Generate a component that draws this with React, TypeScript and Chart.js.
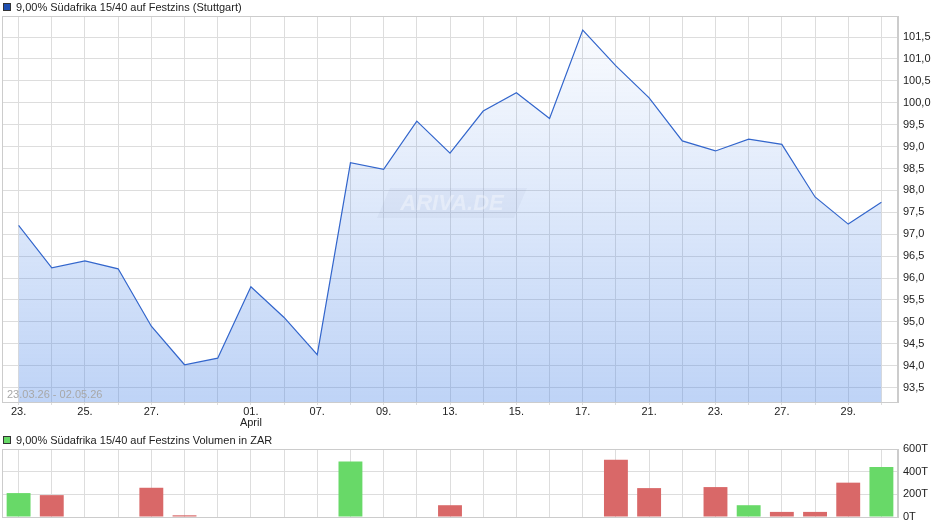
import React, { useEffect, useRef } from 'react';
import { Chart, registerables } from 'chart.js';

Chart.register(...registerables);

// ---------- data ----------
const DAYS = [
  '23.03.', '24.03.', '25.03.', '26.03.', '27.03.', '30.03.', '31.03.',
  '01.04.', '02.04.', '07.04.', '08.04.', '09.04.', '10.04.', '13.04.',
  '14.04.', '15.04.', '16.04.', '17.04.', '20.04.', '21.04.', '22.04.',
  '23.04.', '24.04.', '27.04.', '28.04.', '29.04.', '30.04.',
];
const X_TICK_LABELS = [
  '23.', '', '25.', '', '27.', '', '', '01.', '', '07.', '', '09.', '', '13.',
  '', '15.', '', '17.', '', '21.', '', '23.', '', '27.', '', '29.', '',
];
const MONTH_LABELS = [
  '', '', '', '', '', '', '', 'April', '', '', '', '', '', '',
  '', '', '', '', '', '', '', '', '', '', '', '', '',
];
const PRICES = [
  97.2, 96.23, 96.39, 96.21, 94.9, 94.02, 94.17, 95.8, 95.1, 94.25,
  98.63, 98.48, 99.58, 98.85, 99.81, 100.23, 99.64, 101.66, 100.84, 100.11,
  99.13, 98.9, 99.17, 99.05, 97.85, 97.23, 97.73,
];
const VOLUMES = [
  211, 193, 0, 0, 258, 15, 0, 0, 0, 0,
  490, 0, 0, 104, 0, 0, 0, 0, 505, 255,
  0, 264, 104, 45, 45, 303, 442,
];
const PRICE_TICKS = [93.5, 94, 94.5, 95, 95.5, 96, 96.5, 97, 97.5, 98, 98.5, 99, 99.5, 100, 100.5, 101, 101.5];
const PRICE_MIN = 93.17;
const PRICE_MAX = 101.98;
const VOLUME_TICKS = [0, 200, 400, 600];
const VOLUME_MAX = 600;

const TITLE_PRICE = '9,00% Südafrika 15/40 auf Festzins (Stuttgart)';
const TITLE_VOLUME = '9,00% Südafrika 15/40 auf Festzins Volumen in ZAR';
const DATE_RANGE = '23.03.26 - 02.05.26';
const WATERMARK = 'ARIVA.DE';

// ---------- styles ----------
const FONT = '"Liberation Sans", Arial, sans-serif';
const GRID = '#dddddd';
const BORDER = '#cccccc';
const TEXT = '#222222';
const UP = 'rgb(104,217,104)';
const DOWN = 'rgb(217,104,104)';

const frame = {
  id: 'frame',
  afterDraw(chart: any) {
    const { ctx, chartArea: a } = chart;
    ctx.save();
    ctx.strokeStyle = BORDER;
    ctx.lineWidth = 1;
    ctx.strokeRect(Math.round(a.left) + 0.5, Math.round(a.top) + 0.5, Math.round(a.right - a.left) - 1, Math.round(a.bottom - a.top));
    ctx.restore();
  },
};

const decorations = {
  id: 'decorations',
  afterDatasetsDraw(chart: any) {
    const { ctx, chartArea: a } = chart;
    ctx.save();
    // watermark
    const cx = (a.left + a.right) / 2 + 2;
    const cy = 203;
    ctx.fillStyle = 'rgba(110,130,170,0.07)';
    ctx.beginPath();
    ctx.moveTo(cx - 62, cy - 15);
    ctx.lineTo(cx + 75, cy - 15);
    ctx.lineTo(cx + 62, cy + 15);
    ctx.lineTo(cx - 75, cy + 15);
    ctx.closePath();
    ctx.fill();
    ctx.font = `italic bold 22px ${FONT}`;
    ctx.fillStyle = 'rgba(255,255,255,0.35)';
    ctx.textAlign = 'center';
    ctx.textBaseline = 'middle';
    ctx.fillText(WATERMARK, cx, cy + 1);
    // date range
    ctx.font = `11px ${FONT}`;
    ctx.fillStyle = '#a8a8a8';
    ctx.textAlign = 'left';
    ctx.fillText(DATE_RANGE, a.left + 5, a.bottom - 7);
    ctx.restore();
  },
};

function PriceChart() {
  const ref = useRef<HTMLCanvasElement>(null);
  useEffect(() => {
    const chart = new Chart(ref.current!, {
      type: 'line',
      data: {
        labels: DAYS,
        datasets: [
          {
            data: PRICES,
            borderColor: 'rgb(51,102,204)',
            borderWidth: 1.2,
            pointRadius: 0,
            tension: 0,
            fill: 'start',
            backgroundColor: (c: any) => {
              const { chart } = c;
              const area = chart.chartArea;
              if (!area) return 'rgba(70,130,230,0.2)';
              const g = chart.ctx.createLinearGradient(0, area.top, 0, area.bottom);
              g.addColorStop(0, 'rgba(70,130,230,0.02)');
              g.addColorStop(1, 'rgba(70,130,230,0.35)');
              return g;
            },
          },
        ],
      },
      options: {
        animation: false,
        responsive: false,
        maintainAspectRatio: false,
        layout: { padding: { left: 2, top: 16, right: 0, bottom: 0 } },
        plugins: { legend: { display: false }, tooltip: { enabled: false } },
        scales: {
          x: {
            type: 'category',
            offset: true,
            grid: { color: GRID, offset: false, tickLength: 3, drawTicks: true },
            border: { color: BORDER },
            ticks: {
              autoSkip: false,
              maxRotation: 0,
              padding: 1,
              color: TEXT,
              font: { family: FONT, size: 11, lineHeight: 1.05 },
              callback: (_v: any, i: number) =>
                MONTH_LABELS[i] ? [X_TICK_LABELS[i], MONTH_LABELS[i]] : X_TICK_LABELS[i],
            },
            afterFit: (s: any) => {
              s.height = 28;
            },
          },
          y: {
            position: 'right',
            min: PRICE_MIN,
            max: PRICE_MAX,
            grid: { color: GRID, drawTicks: false },
            border: { color: BORDER },
            ticks: {
              padding: 5,
              color: TEXT,
              font: { family: FONT, size: 11 },
              callback: (v: any) => Number(v).toFixed(1).replace('.', ','),
            },
            afterBuildTicks: (s: any) => {
              s.ticks = PRICE_TICKS.map((v) => ({ value: v }));
            },
            afterFit: (s: any) => {
              s.width = 42;
            },
          },
        },
      },
      plugins: [decorations, frame],
    } as any);
    return () => chart.destroy();
  }, []);
  return (
    <canvas
      ref={ref}
      width={940}
      height={430}
      style={{ position: 'absolute', left: 0, top: 0, width: 940, height: 430 }}
    />
  );
}

function VolumeChart() {
  const ref = useRef<HTMLCanvasElement>(null);
  useEffect(() => {
    const colors = VOLUMES.map((_v, i) => (i === 0 || PRICES[i] >= PRICES[i - 1] ? UP : DOWN));
    const chart = new Chart(ref.current!, {
      type: 'bar',
      data: {
        labels: DAYS,
        datasets: [
          {
            data: VOLUMES,
            backgroundColor: colors,
            barPercentage: 0.72,
            categoryPercentage: 1,
          },
        ],
      },
      options: {
        animation: false,
        responsive: false,
        maintainAspectRatio: false,
        layout: { padding: { left: 2, top: 19, right: 0, bottom: 9 } },
        plugins: { legend: { display: false }, tooltip: { enabled: false } },
        scales: {
          x: {
            grid: { color: GRID, offset: false, drawTicks: false },
            border: { color: BORDER },
            ticks: { display: false },
          },
          y: {
            position: 'right',
            min: 0,
            max: VOLUME_MAX,
            grid: { color: GRID, drawTicks: false },
            border: { color: BORDER },
            ticks: {
              padding: 5,
              color: TEXT,
              font: { family: FONT, size: 11 },
              callback: (v: any) => `${v}T`,
            },
            afterBuildTicks: (s: any) => {
              s.ticks = VOLUME_TICKS.map((v) => ({ value: v }));
            },
            afterFit: (s: any) => {
              s.width = 42;
              s.paddingTop = 0;
              s.paddingBottom = 0;
            },
          },
        },
      },
      plugins: [frame],
    } as any);
    return () => chart.destroy();
  }, []);
  return (
    <canvas
      ref={ref}
      width={940}
      height={96}
      style={{ position: 'absolute', left: 0, top: 430, width: 940, height: 96 }}
    />
  );
}

function Legend({ top, color, text }: { top: number; color: string; text: string }) {
  return (
    <div
      style={{
        position: 'absolute',
        left: 3,
        top,
        height: 13,
        display: 'flex',
        alignItems: 'center',
        font: `11px ${FONT}`,
        color: TEXT,
        whiteSpace: 'nowrap',
      }}
    >
      <span
        style={{
          display: 'inline-block',
          width: 6,
          height: 6,
          background: color,
          border: '1px solid #333',
          marginRight: 5,
        }}
      />
      {text}
    </div>
  );
}

export default function App() {
  return (
    <div
      style={{
        position: 'absolute',
        left: 0,
        top: 0,
        width: 940,
        height: 526,
        background: '#fff',
        overflow: 'hidden',
      }}
    >
      <PriceChart />
      <VolumeChart />
      <Legend top={0} color="#1f4fb0" text={TITLE_PRICE} />
      <Legend top={433} color="#66d966" text={TITLE_VOLUME} />
    </div>
  );
}
